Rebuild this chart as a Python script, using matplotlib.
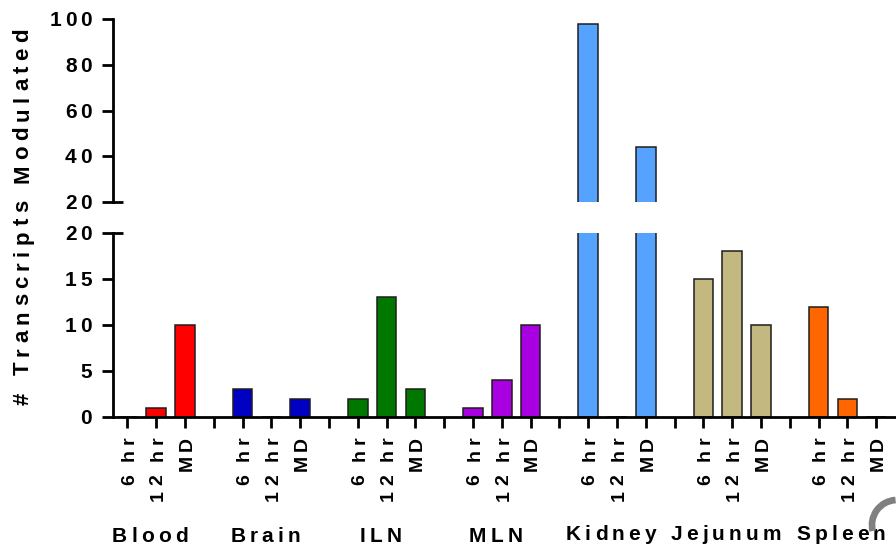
import matplotlib
matplotlib.use("Agg")
import matplotlib.pyplot as plt
import numpy as np
from matplotlib.patches import Arc
from matplotlib.text import Text
from matplotlib.transforms import IdentityTransform, offset_copy
from matplotlib.font_manager import findfont, get_font

# Data
tissues = ["Blood", "Brain", "ILN", "MLN", "Kidney", "Jejunum", "Spleen"]
timepoints = ["6 hr", "12 hr", "MD"]
counts = {
    "Blood":   [0, 1, 10],
    "Brain":   [3, 0, 2],
    "ILN":     [2, 13, 3],
    "MLN":     [1, 4, 10],
    "Kidney":  [98, 0, 44],
    "Jejunum": [15, 18, 10],
    "Spleen":  [12, 2, 0],
}
colors = {
    "Blood": "#FF0000",
    "Brain": "#0000C4",
    "ILN": "#007800",
    "MLN": "#A800E0",
    "Kidney": "#55A3FF",
    "Jejunum": "#C2B880",
    "Spleen": "#FF6600",
}
ylabel = "# Transcripts Modulated"
lower_ticks = [0, 5, 10, 15, 20]
upper_ticks = [20, 40, 60, 80, 100]

FONT = "Liberation Sans"


class TrackedText(Text):
    """Text drawn with extra letter spacing (tracking, in points)."""

    def __init__(self, x, y, text, tracking=0.0, along="center",
                 trailing=False, **kw):
        super().__init__(x, y, text, **kw)
        self._tracking = tracking
        self._along = along
        self._trailing = trailing

    def draw(self, renderer):
        if not self.get_visible() or not self.get_text():
            return
        s = self.get_text()
        fp = self.get_fontproperties()
        font = get_font(findfont(fp))
        font.set_size(fp.get_size_in_points(), renderer.dpi)
        adv = []
        for c in s:
            g = font.load_char(ord(c))
            adv.append(g.linearHoriAdvance / 65536.0)
        trk = renderer.points_to_pixels(self._tracking)
        _, h, d = renderer.get_text_width_height_descent(s, fp, ismath=False)
        total = sum(adv) + trk * (len(s) if self._trailing else len(s) - 1)
        ang = np.deg2rad(self.get_rotation())
        u = np.array([np.cos(ang), np.sin(ang)])
        n = np.array([-np.sin(ang), np.cos(ang)])
        anchor = np.asarray(self.get_transform().transform(
            self.get_unitless_position()), dtype=float)
        frac = {"start": 0.0, "center": 0.5, "end": 1.0}[self._along]
        base = anchor - frac * total * u - n * (h / 2.0 - d)
        pos = 0.0
        for c, a in zip(s, adv):
            p = base + pos * u
            t = Text(p[0], p[1], c, fontproperties=fp, color=self.get_color(),
                     rotation=self.get_rotation(), rotation_mode="anchor",
                     ha="left", va="baseline", transform=IdentityTransform())
            t.set_figure(self.figure)
            t.draw(renderer)
            pos += a + trk


W, H = 896, 547
fig = plt.figure(figsize=(W / 100, H / 100), dpi=100)

# panel geometry (pixels)
x_left = 113
lo_top, lo_bot = 233, 417
up_top, up_bot = 19, 202
pitch = 28.8


def rect(top, bot):
    return [x_left / W, 1 - bot / H, (W - x_left) / W, (bot - top) / H]


ax_lo = fig.add_axes(rect(lo_top, lo_bot))
ax_up = fig.add_axes(rect(up_top, up_bot))

slot = len(timepoints) + 1
xs, heights, cols, labels = [], [], [], []
for g, t in enumerate(tissues):
    for i, tp in enumerate(timepoints):
        xs.append(g * slot + i)
        heights.append(counts[t][i])
        cols.append(colors[t])
    labels += timepoints + [""]
n_slots = len(tissues) * slot

LW = 2.0
TICKLEN = 7.7
xlim = (-0.5, (W - x_left) / pitch - 0.5)

for ax in (ax_lo, ax_up):
    ax.bar(xs, heights, width=0.68, color=cols, edgecolor="#1e1e1e", linewidth=1.1)
    for s in ("top", "right"):
        ax.spines[s].set_visible(False)
    ax.spines["left"].set_linewidth(LW)
    ax.tick_params(axis="y", direction="out", length=TICKLEN, width=LW,
                   labelleft=False)

ax_lo.set_ylim(0, 20)
ax_up.set_ylim(20, 100)
ax_lo.set_yticks(lower_ticks)
ax_up.set_yticks(upper_ticks)

# upper panel: no x axis
ax_up.spines["bottom"].set_visible(False)
ax_up.tick_params(axis="x", bottom=False, labelbottom=False)

# lower panel x axis
ax_lo.spines["bottom"].set_linewidth(LW)
ax_lo.set_xticks(np.arange(n_slots))
ax_lo.tick_params(axis="x", direction="out", length=TICKLEN, width=LW,
                  labelbottom=False)
for ax in (ax_lo, ax_up):
    ax.set_xlim(*xlim)

# y tick labels
for ax, ticks in ((ax_lo, lower_ticks), (ax_up, upper_ticks)):
    tr = offset_copy(ax.get_yaxis_transform(), fig=fig, x=-15.0, units="points")
    for v in ticks:
        ax.add_artist(TrackedText(0, v, str(v), tracking=2.9, along="end",
                                  transform=tr, rotation=0, ha="right",
                                  va="center", fontsize=15, fontfamily=FONT,
                                  fontweight="bold", clip_on=False))

# x tick labels
tr = offset_copy(ax_lo.get_xaxis_transform(), fig=fig, y=-14.2, units="points")
for x, lab in enumerate(labels):
    if lab:
        ax_lo.add_artist(TrackedText(x, 0, lab, tracking=3.1, along="end",
                                     transform=tr, rotation=90, ha="center",
                                     va="top", fontsize=14, fontfamily=FONT,
                                     fontweight="bold", clip_on=False))

# break caps at y = 20 on both panels
cap = 0.36
for ax in (ax_up, ax_lo):
    ax.plot([xlim[0], xlim[0] + cap], [20, 20], color="black", lw=LW,
            clip_on=False, solid_capstyle="butt")
    ax.set_xlim(*xlim)

# tissue group labels
trans = offset_copy(ax_lo.get_xaxis_transform(), fig=fig, x=-3.0, units="points")
for g, t in enumerate(tissues):
    ax_lo.add_artist(TrackedText(g * slot + 1, (lo_bot - 534.5) / (lo_bot - lo_top),
                                 t, tracking=3.0, along="center", trailing=True,
                                 transform=trans, ha="center", va="center",
                                 fontsize=15, fontfamily=FONT, fontweight="bold",
                                 clip_on=False))

fig.add_artist(TrackedText(23 / W, 1 - 216.5 / H, ylabel, tracking=3.9,
                           along="center", transform=fig.transFigure,
                           rotation=90, ha="center", va="center", fontsize=16,
                           fontfamily=FONT, fontweight="bold"))

# corner badge arc
r = 25
fig.patches.append(Arc((897 / W, 1 - 525 / H), 2 * r / W, 2 * r / H,
                       theta1=92, theta2=202, transform=fig.transFigure,
                       color="#808080", lw=4.8))

fig.savefig("out.png", dpi=100)
